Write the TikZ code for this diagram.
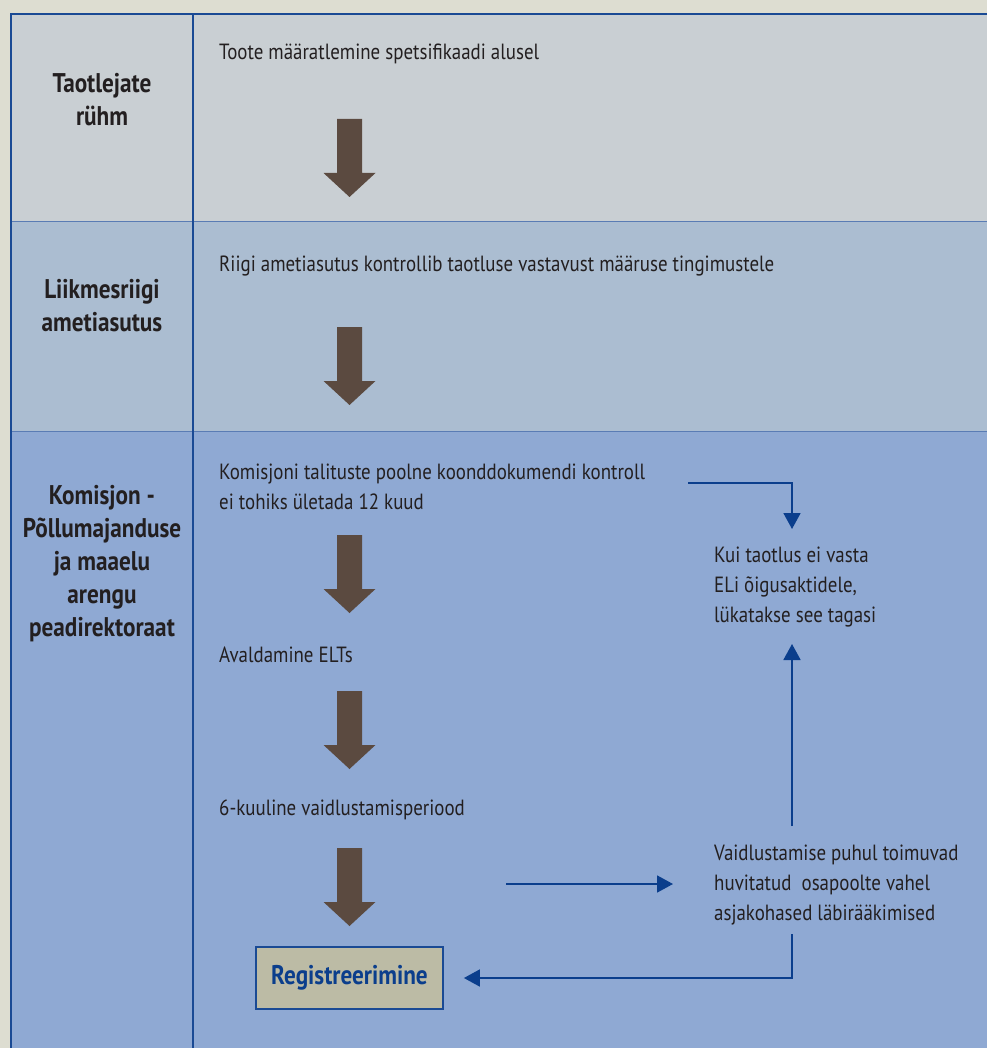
\documentclass[tikz,border=0pt]{standalone}
\usepackage{fontspec}
\setmainfont{PT Sans}[FakeStretch=0.86]
\usetikzlibrary{arrows.meta}
\definecolor{bgc}{HTML}{DDDDD1}
\definecolor{rowa}{HTML}{C9CFD3}
\definecolor{rowb}{HTML}{ABBDD1}
\definecolor{rowc}{HTML}{8FA9D3}
\definecolor{framec}{HTML}{1A4A94}
\definecolor{rowline}{HTML}{5A7CB4}
\definecolor{brownc}{HTML}{5B4A40}
\definecolor{connc}{HTML}{0B3E8C}
\definecolor{regfill}{HTML}{BCBBA5}
\definecolor{textc}{HTML}{231F20}
\tikzset{
  body/.style={font=\fontsize{22}{30}\selectfont, text=textc, inner sep=0pt, align=left, anchor=base west},
  lane/.style={font=\bfseries\fontsize{27}{33}\selectfont, text=textc, inner sep=0pt, align=center},
  conn/.style={draw=connc, line width=1.8pt, -{Triangle[length=16pt,width=17pt]}},
  bigarrow/.pic={\fill[brownc] (-12.5,0) -- (12.5,0) -- (12.5,54) -- (26,54) -- (0,78) -- (-26,54) -- (-12.5,54) -- cycle;},
  regbox/.style={draw=framec, line width=1.8pt, fill=regfill, minimum width=187pt, minimum height=62pt, inner sep=0pt,
    font=\bfseries\fontsize{27}{30}\selectfont, text=connc}
}
\begin{document}
\begin{tikzpicture}[x=1pt,y=-1pt]
\useasboundingbox (0,0) rectangle (987,1048);
\fill[bgc] (0,0) rectangle (987,1048);
\fill[rowa] (11,14) rectangle (987,222);
\fill[rowb] (11,222) rectangle (987,431);
\fill[rowc] (11,431) rectangle (987,1048);
\draw[rowline, line width=1pt] (11,222) -- (987,222) (11,431) -- (987,431);
\draw[framec, line width=2pt] (987,14) -- (11,14) -- (11,1048);
\draw[framec, line width=2pt] (193,14) -- (193,1048);

% lane labels
\node[lane] (l1) at (102,100) {Taotlejate\\rühm};
\node[lane] (l2) at (102,306) {Liikmesriigi\\ametiasutus};
\node[lane] (l3) at (102,564) {Komisjon -\\Põllumajanduse\\ja maaelu\\arengu\\peadirektoraat};

% body texts (base anchor = last line baseline)
\node[body] (t1) at (219,60) {Toote määratlemine spetsifikaadi alusel};
\node[body] (t2) at (219,272) {Riigi ametiasutus kontrollib taotluse vastavust määruse tingimustele};
\node[body] (t3) at (219,509) {Komisjoni talituste poolne koonddokumendi kontroll\\ei tohiks ületada 12 kuud};
\node[body] (t4) at (219,662) {Avaldamine ELTs};
\node[body] (t5) at (219,815) {6-kuuline vaidlustamisperiood};
\node[body] (kui) at (714,622) {Kui taotlus ei vasta\\ELi õigusaktidele,\\lükatakse see tagasi};
\node[body] (vaid) at (714,920) {Vaidlustamise puhul toimuvad\\huvitatud\ \ osapoolte vahel\\asjakohased läbirääkimised};
\node[regbox] (reg) at (349.5,978) {Registreerimine};

% block arrows
\pic at (349.5,119) {bigarrow};
\pic at (349.5,327) {bigarrow};
\pic at (349.5,535) {bigarrow};
\pic at (349.5,691) {bigarrow};
\pic at (349.5,848) {bigarrow};

% connectors
\coordinate (k1) at (688,483);
\coordinate (v1) at (506,884);
\coordinate (kx) at (792,0);
\draw[conn] (k1) -| (kx |- 0,529);
\draw[conn] (kx |- 0,826) -- (kx |- 0,644);
\draw[conn] (v1) -- (673,884);
\draw[conn] (kx |- 0,934) |- ([xshift=20pt]reg.east);
\end{tikzpicture}
\end{document}
